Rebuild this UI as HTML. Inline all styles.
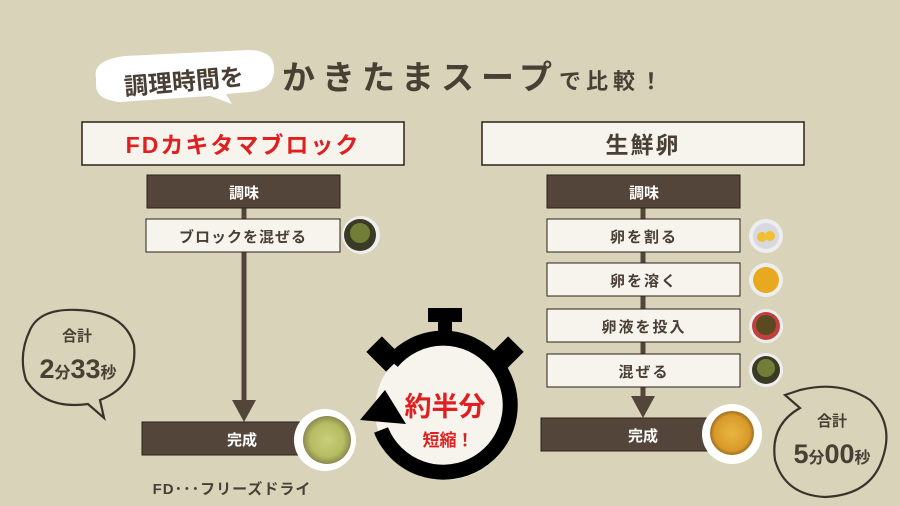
<!DOCTYPE html>
<html><head><meta charset="utf-8"><style>
html,body{margin:0;padding:0}
body{width:900px;height:506px;background:#d8d3b9;overflow:hidden;position:relative;font-family:"Liberation Sans","Noto Sans CJK JP",sans-serif;}
svg{position:absolute;left:0;top:0}
text{font-family:"Liberation Sans","Noto Sans CJK JP",sans-serif;font-weight:bold}
</style></head><body>
<svg width="900" height="506" viewBox="0 0 900 506">
<defs>
<radialGradient id="soup1" cx="50%" cy="50%" r="50%"><stop offset="0" stop-color="#c9cf7a"/><stop offset="0.7" stop-color="#b6bc62"/><stop offset="1" stop-color="#8a8a50"/></radialGradient>
<radialGradient id="soup2" cx="50%" cy="50%" r="50%"><stop offset="0" stop-color="#e8b640"/><stop offset="0.8" stop-color="#d89a2a"/><stop offset="1" stop-color="#a07020"/></radialGradient>
</defs>
<!-- header bubble -->
<path d="M96 78 Q92 60 125 56 L248 50 Q276 50 274 72 Q272 90 250 92 L226 94 L232 104 L210 96 L120 102 Q96 100 96 85 Z" fill="#fff"/>
<text x="184" y="90" font-size="24" fill="#4a3f35" text-anchor="middle" transform="rotate(-5 184 82)">調理時間を</text>
<text x="282" y="89" font-size="33" fill="#4a3f35" letter-spacing="7">かきたまスープ<tspan font-size="22" letter-spacing="5">で比較！</tspan></text>

<!-- left column -->
<rect x="82" y="122" width="322" height="43" fill="#f7f4ee" stroke="#2a211b" stroke-width="1.5"/>
<text x="243" y="153" font-size="23" fill="#e02020" text-anchor="middle" letter-spacing="2">FDカキタマブロック</text>
<line x1="244" y1="208" x2="244" y2="408" stroke="#54453a" stroke-width="5"/>
<polygon points="232,400 256,400 244,422" fill="#54453a"/>
<rect x="147" y="175" width="193" height="33" fill="#54453a" stroke="#2a211b"/>
<text x="244" y="198" font-size="15" fill="#fff" text-anchor="middle">調味</text>
<rect x="146" y="219" width="194" height="33" fill="#f7f4ee" stroke="#2a211b"/>
<text x="243" y="242" font-size="15" fill="#4a3f35" text-anchor="middle" letter-spacing="1">ブロックを混ぜる</text>
<circle cx="361" cy="235" r="19" fill="#eeeeee"/><circle cx="360" cy="235" r="16" fill="#3a3a25"/><circle cx="360" cy="233" r="10" fill="#8a9a40" opacity=".7"/>
<rect x="142" y="422" width="190" height="33" fill="#54453a" stroke="#2a211b"/>
<text x="242" y="445" font-size="15" fill="#fff" text-anchor="middle">完成</text>
<circle cx="325" cy="440" r="31" fill="#fff"/><circle cx="327" cy="440" r="24" fill="url(#soup1)"/>
<text x="232" y="494" font-size="15" fill="#4a3f35" text-anchor="middle" letter-spacing="1">FD･･･フリーズドライ</text>

<!-- left bubble -->
<path d="M30 330 Q40 308 78 310 Q125 312 134 345 Q138 385 100 400 L104 418 L88 404 Q45 410 26 380 Q18 355 30 330 Z" fill="none" stroke="#3a332c" stroke-width="2.2"/>
<text x="77" y="341" font-size="15" fill="#4a3f35" text-anchor="middle">合計</text>
<text x="78" y="378" font-size="27" fill="#4a3f35" text-anchor="middle">2<tspan font-size="16">分</tspan>33<tspan font-size="16">秒</tspan></text>

<!-- right column -->
<rect x="482" y="122" width="322" height="43" fill="#f7f4ee" stroke="#2a211b" stroke-width="1.5"/>
<text x="643" y="153" font-size="23" fill="#4a3f35" text-anchor="middle" letter-spacing="2">生鮮卵</text>
<line x1="643" y1="208" x2="643" y2="400" stroke="#54453a" stroke-width="5"/>
<polygon points="631,396 655,396 643,418" fill="#54453a"/>
<rect x="547" y="175" width="193" height="33" fill="#54453a" stroke="#2a211b"/>
<text x="644" y="198" font-size="15" fill="#fff" text-anchor="middle">調味</text>
<g fill="#f7f4ee" stroke="#2a211b">
<rect x="547" y="219" width="193" height="33"/><rect x="547" y="263" width="193" height="33"/>
<rect x="547" y="309" width="193" height="33"/><rect x="547" y="354" width="193" height="33"/></g>
<g font-size="15" fill="#4a3f35" text-anchor="middle" letter-spacing="2">
<text x="644" y="242">卵を割る</text><text x="644" y="286">卵を溶く</text>
<text x="644" y="332">卵液を投入</text><text x="644" y="377">混ぜる</text></g>
<circle cx="766" cy="236" r="17" fill="#eee"/><circle cx="766" cy="236" r="13" fill="#d8d8e0"/><circle cx="762" cy="237" r="5" fill="#f0c030"/><circle cx="770" cy="236" r="5" fill="#f0c030"/>
<circle cx="766" cy="280" r="17" fill="#eee"/><circle cx="766" cy="280" r="13" fill="#e8a820"/>
<circle cx="766" cy="326" r="17" fill="#eee"/><circle cx="766" cy="326" r="14" fill="#c04040"/><circle cx="766" cy="325" r="10" fill="#5a4a20"/>
<circle cx="766" cy="370" r="17" fill="#eee"/><circle cx="766" cy="370" r="14" fill="#3a3a25"/><circle cx="766" cy="368" r="9" fill="#8a9a40" opacity=".7"/>
<rect x="541" y="418" width="190" height="33" fill="#54453a" stroke="#2a211b"/>
<text x="643" y="441" font-size="15" fill="#fff" text-anchor="middle">完成</text>
<circle cx="732" cy="434" r="30" fill="#fff"/><circle cx="732" cy="433" r="22" fill="url(#soup2)"/>

<!-- right bubble -->
<path d="M785 395 L800 390 Q840 380 870 400 Q895 425 882 460 Q870 495 825 497 Q785 495 775 460 Q770 425 800 408 Z" fill="none" stroke="#3a332c" stroke-width="2.2"/>
<text x="832" y="426" font-size="15" fill="#4a3f35" text-anchor="middle">合計</text>
<text x="832" y="463" font-size="27" fill="#4a3f35" text-anchor="middle">5<tspan font-size="16">分</tspan>00<tspan font-size="16">秒</tspan></text>

<!-- stopwatch -->
<circle cx="445" cy="410" r="70" fill="#f7f4ee"/>
<path d="M392 362 A67 67 0 1 1 381 430" fill="none" stroke="#000" stroke-width="15"/>
<polygon points="385,390 360,420 406,424" fill="#000"/>
<rect x="428" y="308" width="34" height="14" fill="#000"/><rect x="438" y="320" width="14" height="16" fill="#000"/>
<rect x="373" y="340" width="22" height="28" fill="#000" transform="rotate(-45 384 354)"/>
<rect x="495" y="340" width="22" height="28" fill="#000" transform="rotate(45 506 354)"/>
<text x="445" y="416" font-size="27" fill="#e02020" text-anchor="middle">約半分</text>
<text x="448" y="446" font-size="17" fill="#e02020" text-anchor="middle">短縮！</text>
</svg>
</body></html>
